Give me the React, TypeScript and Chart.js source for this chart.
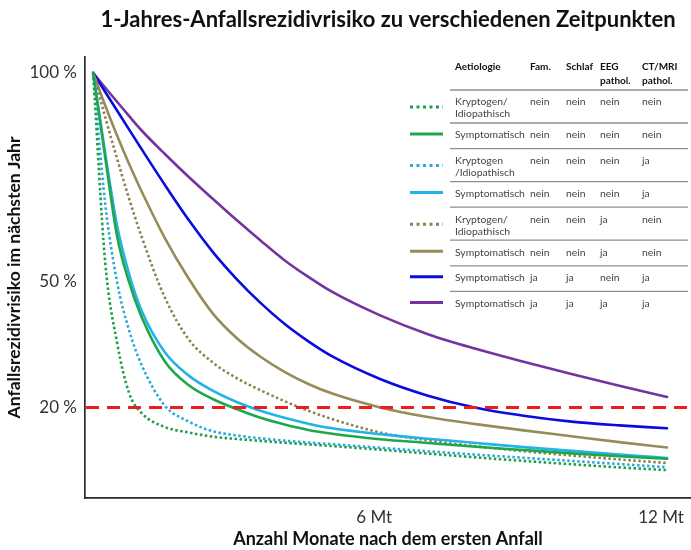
import React, { useEffect, useRef } from "react";
import { Chart, registerables } from "chart.js";

Chart.register(...registerables);

// ---- data ----
const MONTHS = [0, 0.25, 0.5, 0.75, 1, 1.5, 2, 2.5, 3, 3.5, 4, 4.5, 5, 6, 7, 8, 9, 10, 11, 12];

const GREEN_DOTTED = [100, 55, 35.5, 23.5, 18.8, 15.3, 14.0, 13.0, 12.45, 12.0, 11.55, 11.15, 10.75, 9.9, 8.95, 8.05, 7.2, 6.4, 5.65, 5.0];
const GREEN_SOLID = [100, 80, 61, 50, 42, 31, 25.3, 22, 19.6, 17.5, 15.9, 14.6, 13.7, 12.4, 11.5, 10.6, 9.8, 9.0, 8.3, 7.7];
const BLUE_DOTTED = [100, 69, 50, 38.5, 30.5, 20.4, 16.6, 14.3, 13.3, 12.6, 12.05, 11.6, 11.2, 10.35, 9.5, 8.7, 7.95, 7.2, 6.45, 5.7];
const CYAN_SOLID = [100, 81, 63.5, 52, 43.5, 33.2, 27.6, 24.0, 21.3, 19.2, 17.5, 16.1, 15.0, 13.6, 12.5, 11.5, 10.5, 9.6, 8.7, 7.9];
const OLIVE_DOTTED = [100, 89.5, 79.5, 70, 61.25, 46.25, 36.25, 30.75, 27.0, 24.1, 21.5, 19.2, 17.2, 14.0, 12.1, 10.7, 9.5, 8.5, 7.55, 6.7];
const OLIVE_SOLID = [100, 92.25, 85, 78.25, 72, 60.5, 50.75, 42.5, 36.6, 32.1, 28.5, 25.6, 23.3, 20.0, 17.7, 16.0, 14.5, 13.1, 11.7, 10.4];
const BLUE_SOLID = [100, 95.5, 91, 86.5, 82, 73.2, 64.8, 57.2, 50.7, 45.0, 40.0, 35.8, 32.2, 26.8, 22.8, 19.9, 18.0, 16.6, 15.7, 15.0];
const PURPLE_SOLID = [100, 96.5, 93.1, 89.7, 86.4, 80.6, 75.1, 69.9, 64.8, 59.9, 55.2, 51.2, 47.6, 42.0, 37.5, 34.0, 30.9, 28.0, 25.2, 22.5];

const SERIES_VALUES = [GREEN_DOTTED, GREEN_SOLID, BLUE_DOTTED, CYAN_SOLID, OLIVE_DOTTED, OLIVE_SOLID, BLUE_SOLID, PURPLE_SOLID];

const HEADERS = ["Aetiologie", "Fam.", "Schlaf", "EEG\npathol.", "CT/MRI\npathol."];
const AETIOLOGIE = [
  "Kryptogen/\nIdiopathisch",
  "Symptomatisch",
  "Kryptogen\n/Idiopathisch",
  "Symptomatisch",
  "Kryptogen/\nIdiopathisch",
  "Symptomatisch",
  "Symptomatisch",
  "Symptomatisch",
];
const FAM = ["nein", "nein", "nein", "nein", "nein", "nein", "ja", "ja"];
const SCHLAF = ["nein", "nein", "nein", "nein", "nein", "nein", "ja", "ja"];
const EEG = ["nein", "nein", "nein", "nein", "ja", "ja", "nein", "ja"];
const CTMRI = ["nein", "nein", "ja", "ja", "nein", "nein", "ja", "ja"];

const Y_TICKS = [20, 50, 100];
const X_TICKS = [6, 12];
const X_TICK_LABELS = ["6 Mt", "12 Mt"];
const THRESHOLD = 20;

const TITLE = "1-Jahres-Anfallsrezidivrisiko zu verschiedenen Zeitpunkten";
const X_TITLE = "Anzahl Monate nach dem ersten Anfall";
const Y_TITLE = "Anfallsrezidivrisiko im nächsten Jahr";

// ---- styles ----
const COLORS = ["#1f9f4c", "#1fa74d", "#2aa8df", "#22b3e8", "#8f8150", "#968c58", "#0b0be0", "#7434a0"];
const DOTTED = [true, false, true, false, true, false, false, false];
const FONT = "Lato, 'Open Sans', sans-serif";

const thresholdPlugin = {
  id: "threshold",
  afterDatasetsDraw(chart: any) {
    const { ctx, chartArea } = chart;
    const y = chart.scales.y.getPixelForValue(THRESHOLD);
    ctx.save();
    ctx.strokeStyle = "#ee1c1c";
    ctx.lineWidth = 3;
    ctx.setLineDash([13, 8]);
    ctx.beginPath();
    ctx.moveTo(chartArea.left + 1, y);
    ctx.lineTo(chartArea.right, y);
    ctx.stroke();
    ctx.restore();
  },
};

const tablePlugin = {
  id: "riskTable",
  afterDraw(chart: any) {
    const ctx = chart.ctx;
    const colX = [455, 530, 566, 600, 642];
    ctx.save();
    ctx.textBaseline = "middle";
    ctx.textAlign = "left";
    ctx.font = `bold 10px ${FONT}`;
    ctx.fillStyle = "#111";
    HEADERS.forEach((h, i) => {
      h.split("\n").forEach((ln, j) => ctx.fillText(ln, colX[i], 67 + j * 14));
    });
    let top = 90;
    AETIOLOGIE.forEach((label, r) => {
      const lines = label.split("\n");
      const h = lines.length > 1 ? 33 : 25.6;
      ctx.setLineDash([]);
      ctx.strokeStyle = "#8e8e8e";
      ctx.lineWidth = 1.3;
      ctx.beginPath();
      ctx.moveTo(450, top);
      ctx.lineTo(688, top);
      ctx.stroke();
      ctx.font = `10.4px ${FONT}`;
      ctx.fillStyle = "#444";
      lines.forEach((ln, j) => ctx.fillText(ln, colX[0], top + 12 + j * 12));
      [FAM[r], SCHLAF[r], EEG[r], CTMRI[r]].forEach((v, c) => ctx.fillText(v, colX[c + 1], top + 12));
      const sy = lines.length > 1 ? top + 17 : top + 11;
      ctx.strokeStyle = COLORS[r];
      ctx.lineWidth = 3;
      ctx.lineCap = "butt";
      ctx.setLineDash(DOTTED[r] ? [3, 3.5] : []);
      ctx.beginPath();
      ctx.moveTo(410, sy);
      ctx.lineTo(443, sy);
      ctx.stroke();
      top += h;
    });
    ctx.restore();
  },
};

export default function App() {
  const ref = useRef<HTMLCanvasElement>(null);

  useEffect(() => {
    document.body.style.margin = "0";
    const datasets = SERIES_VALUES.map((vals, i) => ({
      label: AETIOLOGIE[i].replace("\n", " "),
      data: MONTHS.map((m, k) => ({ x: m, y: vals[k] })),
      borderColor: COLORS[i],
      backgroundColor: COLORS[i],
      borderWidth: 2.6,
      borderDash: DOTTED[i] ? [2.5, 2.5] : [],
      borderCapStyle: DOTTED[i] ? "butt" : "round",
      borderJoinStyle: "round",
      pointRadius: 0,
      cubicInterpolationMode: "monotone",
      fill: false,
    }));

    const chart = new Chart(ref.current as HTMLCanvasElement, {
      type: "line",
      data: { datasets } as any,
      options: {
        animation: false,
        responsive: false,
        devicePixelRatio: 1,
        layout: { padding: 0 },
        plugins: {
          legend: { display: false },
          tooltip: { enabled: false },
          title: {
            display: true,
            text: TITLE,
            fullSize: false,
            color: "#111",
            font: { family: FONT, size: 22, weight: "bold", lineHeight: 1.2 },
            padding: { top: 7, bottom: 23.6 },
          },
        },
        scales: {
          x: {
            type: "linear",
            min: -0.17,
            max: 12.5,
            grid: { display: false, drawTicks: false },
            border: { display: true, color: "#2a2a2a", width: 1.7 },
            afterBuildTicks: (scale: any) => {
              scale.ticks = X_TICKS.map((v) => ({ value: v }));
            },
            afterFit: (scale: any) => {
              scale.height = 52;
              scale.paddingLeft = 0;
              scale.paddingRight = 0;
            },
            ticks: {
              padding: 9,
              labelOffset: -6,
              color: "#333",
              font: { family: FONT, size: 17, lineHeight: 1.2 },
              maxRotation: 0,
              autoSkip: false,
              callback: (v: any) => {
                const i = X_TICKS.indexOf(Number(v));
                return i >= 0 ? X_TICK_LABELS[i] : "";
              },
            },
            title: {
              display: true,
              text: X_TITLE,
              color: "#111",
              font: { family: FONT, size: 18, weight: "bold", lineHeight: 1.2 },
              padding: { top: 0, bottom: 0 },
            },
          },
          y: {
            type: "linear",
            min: -1.67,
            max: 103.8,
            grid: { display: false, drawTicks: false },
            border: { display: true, color: "#2a2a2a", width: 1.7 },
            afterBuildTicks: (scale: any) => {
              scale.ticks = Y_TICKS.map((v) => ({ value: v }));
            },
            afterFit: (scale: any) => {
              scale.width = 85;
              scale.paddingTop = 0;
              scale.paddingBottom = 0;
            },
            ticks: {
              padding: 8,
              color: "#333",
              font: { family: FONT, size: 17, lineHeight: 1.2 },
              autoSkip: false,
              callback: (v: any) => `${v} %`,
            },
            title: {
              display: true,
              text: Y_TITLE,
              color: "#111",
              font: { family: FONT, size: 17.5, weight: "bold", lineHeight: 1.2 },
              padding: { top: 4, bottom: 0 },
            },
          },
        },
      } as any,
      plugins: [thresholdPlugin, tablePlugin],
    });
    return () => chart.destroy();
  }, []);

  return (
    <div style={{ width: 691, height: 550 }}>
      <canvas ref={ref} width={691} height={550} style={{ display: "block" }} />
    </div>
  );
}
